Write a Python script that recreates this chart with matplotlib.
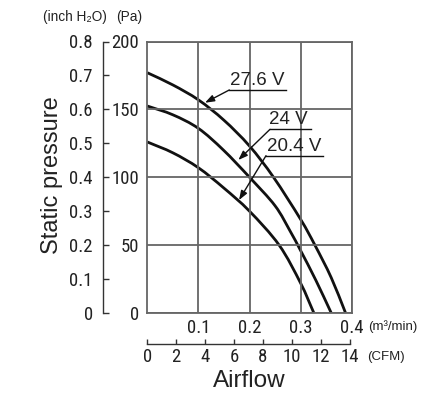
import matplotlib
matplotlib.use("Agg")
import matplotlib.pyplot as plt
from matplotlib.path import Path
from matplotlib.patches import PathPatch
import numpy as np

# ---- data ----
airflow_276 = [0, 0.05, 0.10, 0.15, 0.20, 0.247, 0.30, 0.328, 0.36, 0.388]
pressure_276 = [177, 168, 157, 142, 123, 100, 69, 50, 26, 0]
airflow_24 = [0, 0.05, 0.10, 0.149, 0.20, 0.25, 0.28, 0.30, 0.33, 0.36]
pressure_24 = [152.5, 146, 136, 120, 100, 79, 60, 46, 24, 0]
airflow_204 = [0, 0.05, 0.10, 0.15, 0.20, 0.258, 0.30, 0.326]
pressure_204 = [126, 118, 107, 92, 75, 50, 22, 0]
series_labels = ["27.6 V", "24 V", "20.4 V"]

pa_ticks = [0, 50, 100, 150, 200]
inch_ticks = [0, 0.1, 0.2, 0.3, 0.4, 0.5, 0.6, 0.7, 0.8]
m3_ticks = [0.1, 0.2, 0.3, 0.4]
cfm_ticks = [0, 2, 4, 6, 8, 10, 12, 14]

NARROW = ['Roboto Condensed', 'DejaVu Sans']
REG = ['Liberation Sans', 'DejaVu Sans']
W, H = 438, 405
TXT = '#222222'
GRID = '#666666'
TICKFS = 13.5

fig = plt.figure(figsize=(W / 100, H / 100), dpi=100)

def fx(px):
    return px / W

def fy(py):
    return 1 - py / H

def smooth_path(xs, ys):
    """Cubic Bezier path through the given points (Catmull-Rom tangents)."""
    xs = np.asarray(xs, float)
    ys = np.asarray(ys, float)
    n = len(xs)
    tx = np.zeros(n); ty = np.zeros(n)
    for i in range(n):
        a = max(i - 1, 0); b = min(i + 1, n - 1)
        tx[i] = (xs[b] - xs[a]) / (b - a)
        ty[i] = (ys[b] - ys[a]) / (b - a)
    verts = [(xs[0], ys[0])]
    codes = [Path.MOVETO]
    for i in range(n - 1):
        verts += [(xs[i] + tx[i] / 3, ys[i] + ty[i] / 3),
                  (xs[i + 1] - tx[i + 1] / 3, ys[i + 1] - ty[i + 1] / 3),
                  (xs[i + 1], ys[i + 1])]
        codes += [Path.CURVE4] * 3
    return Path(verts, codes)

L, R, T, B = 147.3, 351.7, 41.5, 313.0
ax = fig.add_axes([fx(L), fy(B), (R - L) / W, (B - T) / H])
ax.set_xlim(0, 0.4)
ax.set_ylim(0, 200)
for s in ax.spines.values():
    s.set_color(GRID)
    s.set_linewidth(1.3)
ax.grid(True, color=GRID, linewidth=1.3)
ax.set_xticks(m3_ticks)
ax.set_xticklabels([f"{v:.1f}" for v in m3_ticks], fontfamily=NARROW, fontsize=TICKFS, color=TXT)
ax.set_yticks(pa_ticks)
ax.set_yticklabels([str(v) for v in pa_ticks], fontfamily=NARROW, fontsize=TICKFS, color=TXT)
ax.tick_params(axis='both', length=0)
ax.tick_params(axis='x', pad=4)
ax.tick_params(axis='y', pad=6)

for xs, ys in [(airflow_276, pressure_276), (airflow_24, pressure_24), (airflow_204, pressure_204)]:
    ax.add_patch(PathPatch(smooth_path(xs, ys), facecolor='none', edgecolor='#111111',
                           linewidth=2.0, capstyle='butt'))

# labels with underline and leader arrows
ann = [
    # text center x, baseline y, underline x0, x1, underline y, tip x, tip y
    (series_labels[0], 0.2157, 166.7, 0.1605, 0.2708, 164.3, 0.1129, 154.9),
    (series_labels[1], 0.2767, 138.0, 0.2401, 0.3198, 135.3, 0.1781, 112.7),
    (series_labels[2], 0.2869, 118.1, 0.2323, 0.3432, 115.9, 0.1795, 83.2),
]
for lab, tx, ty, u0, u1, uy, ax_, ay in ann:
    ax.text(tx, ty + 1.0, lab, ha='center', va='baseline', fontfamily=REG, fontsize=13.5, color=TXT)
    ax.plot([u0, u1], [uy, uy], color='#111111', linewidth=1.0)
    ax.annotate('', xy=(ax_, ay), xytext=(u0, uy),
                arrowprops=dict(arrowstyle='-|>,head_length=0.55,head_width=0.2', color='#111111',
                                linewidth=1.0, shrinkA=0, shrinkB=0))

# inch H2O axis
axi = fig.add_axes([fx(102.7), fy(B), 0.01, (B - T) / H])
axi.set_ylim(0, 0.8 * 250)
axi.set_xlim(0, 1)
for k in ['top', 'right', 'bottom']:
    axi.spines[k].set_visible(False)
axi.spines['left'].set_color('#333333')
axi.spines['left'].set_linewidth(1.0)
axi.set_xticks([])
axi.set_yticks([v * 250 for v in inch_ticks])
axi.set_yticklabels([("0" if v == 0 else f"{v:.1f}") for v in inch_ticks], fontfamily=NARROW, fontsize=TICKFS, color=TXT)
axi.tick_params(axis='y', direction='in', length=4, width=1.0, color='#333333', pad=7)
axi.patch.set_visible(False)

# CFM axis
axc = fig.add_axes([fx(L), fy(344.3), (R - L) / W, 0.001])
axc.set_xlim(0, 0.4 * 35.3147)
axc.set_ylim(0, 1)
for k in ['top', 'right', 'left']:
    axc.spines[k].set_visible(False)
axc.spines['bottom'].set_bounds(0, 14)
axc.spines['bottom'].set_color('#333333')
axc.spines['bottom'].set_linewidth(1.0)
axc.set_yticks([])
axc.set_xticks(cfm_ticks)
axc.set_xticklabels([str(v) for v in cfm_ticks], fontfamily=NARROW, fontsize=TICKFS, color=TXT)
axc.tick_params(axis='x', direction='in', length=3.5, width=1.0, color='#333333', pad=3)
axc.patch.set_visible(False)

# unit texts
fig.text(fx(43), fy(17), '(inch H\u2082O)', fontfamily=REG, fontsize=9.8, color=TXT, ha='left', va='center')
fig.text(fx(116), fy(17), '(Pa)', fontfamily=REG, fontsize=9.8, color=TXT, ha='left', va='center')
fig.text(fx(368), fy(327), '(m\u00b3/min)', fontfamily=REG, fontsize=9.5, color=TXT, ha='left', va='center')
fig.text(fx(367), fy(357), '(CFM)', fontfamily=REG, fontsize=9.5, color=TXT, ha='left', va='center')

fig.text(fx(52), fy(175), 'Static pressure', fontfamily=REG, fontsize=17, color=TXT,
         rotation=90, ha='center', va='center')
fig.text(fx(249), fy(381), 'Airflow', fontfamily=REG, fontsize=17.5, color=TXT, ha='center', va='center')

fig.savefig('out.png', dpi=100, facecolor='white')
